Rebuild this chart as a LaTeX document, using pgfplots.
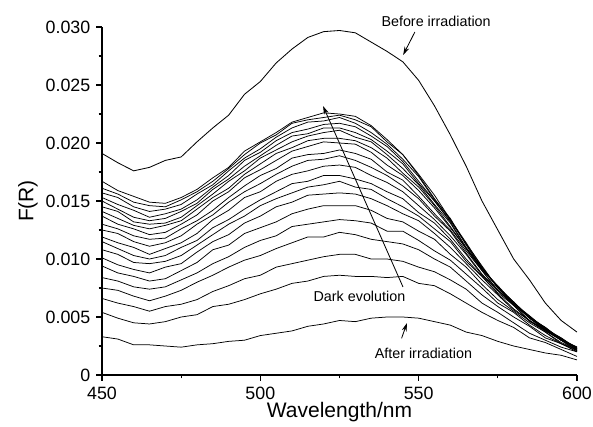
\documentclass[border=0pt]{standalone}
\usepackage{fontspec}
\setmainfont{Liberation Sans}
\usepackage{pgfplots}
\pgfplotsset{compat=1.18}
\usepackage{pgfplotstable}
\usetikzlibrary{arrows.meta}

\pgfplotstableread{
wl bef c0 c1 c2 c3 c4 c5 c6 c7 c8 c9 c10 c11 c12 c13 c14 c15 c16 c17 c18 c19
450 0.0191 0.0033 0.0054 0.0066 0.0075 0.0084 0.0094 0.0101 0.0108 0.0115 0.0119 0.0125 0.0130 0.0137 0.0141 0.0145 0.0150 0.0153 0.0157 0.0161 0.0167
455 0.0183 0.0031 0.0049 0.0062 0.0073 0.0081 0.0088 0.0095 0.0104 0.0109 0.0114 0.0122 0.0126 0.0130 0.0135 0.0141 0.0143 0.0147 0.0153 0.0156 0.0159
460 0.0176 0.0026 0.0045 0.0059 0.0068 0.0076 0.0085 0.0091 0.0097 0.0103 0.0110 0.0115 0.0120 0.0126 0.0129 0.0132 0.0136 0.0142 0.0145 0.0149 0.0154
465 0.0179 0.0026 0.0044 0.0055 0.0064 0.0074 0.0081 0.0088 0.0096 0.0100 0.0104 0.0111 0.0117 0.0121 0.0126 0.0130 0.0133 0.0136 0.0141 0.0146 0.0149
470 0.0185 0.0025 0.0046 0.0059 0.0068 0.0076 0.0083 0.0093 0.0098 0.0103 0.0109 0.0114 0.0118 0.0123 0.0129 0.0131 0.0135 0.0139 0.0143 0.0145 0.0148
475 0.0188 0.0024 0.0050 0.0061 0.0073 0.0082 0.0090 0.0096 0.0103 0.0110 0.0114 0.0120 0.0126 0.0130 0.0133 0.0136 0.0141 0.0143 0.0147 0.0151 0.0153
480 0.0201 0.0026 0.0052 0.0065 0.0080 0.0088 0.0097 0.0106 0.0112 0.0116 0.0122 0.0130 0.0133 0.0138 0.0143 0.0146 0.0148 0.0151 0.0156 0.0158 0.0160
485 0.0213 0.0027 0.0059 0.0072 0.0086 0.0096 0.0108 0.0115 0.0121 0.0127 0.0134 0.0138 0.0142 0.0150 0.0153 0.0156 0.0160 0.0162 0.0164 0.0167 0.0170
490 0.0224 0.0029 0.0061 0.0077 0.0093 0.0102 0.0112 0.0121 0.0130 0.0134 0.0142 0.0149 0.0153 0.0158 0.0161 0.0167 0.0169 0.0172 0.0176 0.0178 0.0179
495 0.0242 0.0030 0.0065 0.0083 0.0099 0.0110 0.0122 0.0131 0.0137 0.0143 0.0153 0.0158 0.0163 0.0170 0.0173 0.0176 0.0180 0.0185 0.0187 0.0190 0.0193
500 0.0253 0.0034 0.0070 0.0086 0.0103 0.0116 0.0127 0.0137 0.0146 0.0151 0.0158 0.0165 0.0172 0.0177 0.0182 0.0187 0.0189 0.0192 0.0195 0.0200 0.0201
505 0.0269 0.0036 0.0074 0.0093 0.0109 0.0120 0.0132 0.0145 0.0152 0.0158 0.0167 0.0173 0.0178 0.0185 0.0191 0.0194 0.0198 0.0202 0.0205 0.0207 0.0209
510 0.0281 0.0038 0.0079 0.0096 0.0114 0.0128 0.0139 0.0149 0.0157 0.0165 0.0173 0.0180 0.0187 0.0193 0.0196 0.0201 0.0206 0.0209 0.0213 0.0217 0.0218
515 0.0291 0.0042 0.0081 0.0099 0.0119 0.0130 0.0143 0.0155 0.0162 0.0167 0.0176 0.0185 0.0190 0.0197 0.0202 0.0206 0.0208 0.0212 0.0218 0.0220 0.0222
520 0.0296 0.0044 0.0085 0.0102 0.0119 0.0132 0.0146 0.0156 0.0164 0.0172 0.0180 0.0186 0.0191 0.0201 0.0204 0.0209 0.0213 0.0216 0.0219 0.0222 0.0226
525 0.0297 0.0047 0.0086 0.0104 0.0123 0.0134 0.0146 0.0157 0.0167 0.0172 0.0181 0.0189 0.0194 0.0200 0.0204 0.0211 0.0213 0.0217 0.0222 0.0224 0.0225
530 0.0295 0.0046 0.0085 0.0104 0.0121 0.0133 0.0146 0.0156 0.0162 0.0169 0.0179 0.0185 0.0191 0.0199 0.0202 0.0205 0.0209 0.0214 0.0217 0.0220 0.0223
535 0.0287 0.0049 0.0085 0.0100 0.0117 0.0131 0.0142 0.0152 0.0160 0.0165 0.0172 0.0179 0.0186 0.0192 0.0196 0.0201 0.0203 0.0206 0.0209 0.0214 0.0215
540 0.0279 0.0050 0.0084 0.0100 0.0115 0.0124 0.0135 0.0146 0.0152 0.0158 0.0166 0.0172 0.0175 0.0181 0.0187 0.0190 0.0193 0.0197 0.0199 0.0201 0.0203
545 0.0270 0.0050 0.0085 0.0098 0.0113 0.0124 0.0132 0.0139 0.0145 0.0152 0.0158 0.0163 0.0168 0.0172 0.0174 0.0178 0.0182 0.0184 0.0186 0.0190 0.0190
550 0.0254 0.0049 0.0079 0.0093 0.0108 0.0116 0.0124 0.0133 0.0137 0.0140 0.0146 0.0152 0.0154 0.0159 0.0162 0.0164 0.0165 0.0167 0.0171 0.0172 0.0173
555 0.0232 0.0046 0.0077 0.0089 0.0100 0.0107 0.0117 0.0122 0.0126 0.0131 0.0134 0.0137 0.0139 0.0144 0.0146 0.0147 0.0150 0.0150 0.0151 0.0152 0.0155
560 0.0207 0.0043 0.0070 0.0082 0.0093 0.0099 0.0104 0.0110 0.0115 0.0117 0.0120 0.0124 0.0125 0.0127 0.0128 0.0131 0.0132 0.0133 0.0135 0.0134 0.0134
565 0.0180 0.0037 0.0062 0.0074 0.0081 0.0087 0.0093 0.0096 0.0098 0.0100 0.0104 0.0105 0.0107 0.0109 0.0109 0.0109 0.0110 0.0113 0.0112 0.0113 0.0114
570 0.0150 0.0034 0.0054 0.0062 0.0069 0.0075 0.0078 0.0082 0.0085 0.0085 0.0086 0.0087 0.0090 0.0090 0.0091 0.0093 0.0092 0.0091 0.0092 0.0094 0.0093
575 0.0125 0.0029 0.0047 0.0054 0.0059 0.0062 0.0065 0.0069 0.0070 0.0071 0.0073 0.0073 0.0073 0.0073 0.0076 0.0075 0.0076 0.0077 0.0076 0.0075 0.0075
580 0.0100 0.0025 0.0041 0.0045 0.0050 0.0054 0.0055 0.0056 0.0057 0.0060 0.0060 0.0060 0.0062 0.0061 0.0061 0.0061 0.0063 0.0062 0.0062 0.0063 0.0062
585 0.0082 0.0022 0.0032 0.0036 0.0042 0.0043 0.0045 0.0047 0.0047 0.0046 0.0047 0.0050 0.0049 0.0049 0.0051 0.0050 0.0049 0.0049 0.0051 0.0050 0.0050
590 0.0062 0.0019 0.0028 0.0030 0.0032 0.0034 0.0037 0.0037 0.0038 0.0039 0.0039 0.0038 0.0038 0.0041 0.0040 0.0040 0.0041 0.0040 0.0039 0.0039 0.0041
595 0.0047 0.0017 0.0022 0.0024 0.0027 0.0027 0.0027 0.0028 0.0030 0.0030 0.0030 0.0031 0.0031 0.0030 0.0030 0.0032 0.0031 0.0031 0.0032 0.0031 0.0030
600 0.0037 0.0013 0.0016 0.0020 0.0020 0.0021 0.0022 0.0022 0.0021 0.0021 0.0023 0.0023 0.0023 0.0024 0.0023 0.0022 0.0022 0.0024 0.0023 0.0023 0.0024
}\data

\begin{document}
\begin{tikzpicture}
\useasboundingbox (-61.2pt,-30.6pt) rectangle (294.6pt,225pt);
\begin{axis}[
  at={(0,0)}, anchor=south west,
  scale only axis, width=285pt, height=208.8pt,
  xmin=450, xmax=600, ymin=0, ymax=0.030,
  axis x line*=bottom, axis y line*=left,
  xtick={450,500,550,600}, xticklabels={450,500,550,600},
  ytick={0,0.005,0.010,0.015,0.020,0.025,0.030},
  yticklabels={0,0.005,0.010,0.015,0.020,0.025,0.030},
  scaled y ticks=false,
  minor x tick num=1, minor y tick num=1,
  tick align=outside,
  major tick length=3.5pt, minor tick length=2pt,
  tick style={black, line width=0.7pt},
  axis line style={black, line width=0.8pt},
  ticklabel style={font=\fontsize{10.7}{12}\selectfont},
  xlabel={Wavelength/nm}, ylabel={F(R)},
  label style={font=\fontsize{12.6}{14}\selectfont},
  xlabel style={at={(axis description cs:0.5,-0.1207)}, anchor=base},
  ylabel style={at={(axis description cs:-0.1558,0.5)}, anchor=center},
  clip=false,
]
\addplot[black, solid, line width=0.5pt, mark=none] table[x=wl, y=bef]{\data};
\pgfplotsinvokeforeach{0,...,19}{
  \addplot[black, solid, line width=0.45pt, mark=none] table[x=wl, y=c#1]{\data};
}
\node[font=\fontsize{8.6}{10}\selectfont, anchor=base] at (axis cs:555.5,0.03008) {Before irradiation};
\draw[line width=0.5pt, -{Stealth[length=5pt,width=3pt]}] (axis cs:548.8,0.02957) -- (axis cs:545.1,0.02759);
\draw[line width=0.5pt, -{Stealth[length=5pt,width=3pt]}] (axis cs:545.05,0.00759) -- (axis cs:519.8,0.02319);
\node[font=\fontsize{8.6}{10}\selectfont, anchor=base] at (axis cs:531.3,0.00634) {Dark evolution};
\draw[line width=0.5pt, -{Stealth[length=5pt,width=3pt]}] (axis cs:544.6,0.00316) -- (axis cs:546.3,0.00448);
\node[font=\fontsize{8.6}{10}\selectfont, anchor=base] at (axis cs:551.5,0.00144) {After irradiation};
\end{axis}
\end{tikzpicture}
\end{document}
